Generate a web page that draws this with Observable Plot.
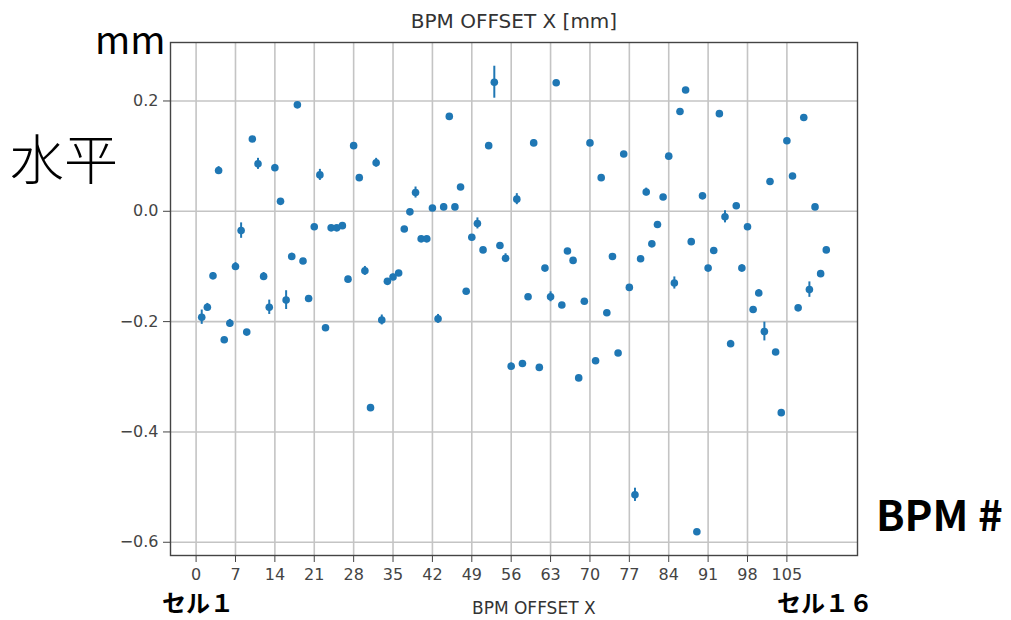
<!DOCTYPE html>
<html>
<head>
<meta charset="utf-8">
<script src="https://cdn.jsdelivr.net/npm/d3@7"></script>
<script src="https://cdn.jsdelivr.net/npm/@observablehq/plot@0.6"></script>
<style>
  html, body { margin: 0; padding: 0; background: #fff; }
  #wrap { position: relative; width: 1011px; height: 620px; overflow: hidden; background: #fff; }
  #chart { position: absolute; left: 0; top: 0; }
  .ann { position: absolute; white-space: nowrap; line-height: 1; color: #000; }
</style>
</head>
<body>
<div id="wrap">
  <div id="chart"></div>
  <div class="ann" style="left:0;width:1028px;top:9px;text-align:center;font:20px 'DejaVu Sans';color:#333;">BPM OFFSET X [mm]</div>
  <div class="ann" style="left:95px;top:10px;font:38px 'Noto Sans CJK JP';">mm</div>
  <div class="ann" style="left:10px;top:117px;font:300 54px 'Noto Sans CJK JP';">水平</div>
  <div class="ann" style="left:876px;top:482px;font:bold 42px 'Noto Sans CJK JP';">BPM #</div>
  <div class="ann" style="left:472px;top:598px;font:17px 'DejaVu Sans';color:#333;">BPM OFFSET X</div>
  <div class="ann" style="left:162px;top:584px;font:bold 24px 'Noto Sans CJK JP';">セル１</div>
  <div class="ann" style="left:777px;top:584px;font:bold 24px 'Noto Sans CJK JP';">セル１６</div>
</div>
<script>
const bpm = [1,2,3,4,5,6,7,8,9,10,11,12,13,14,15,16,17,18,19,20,21,22,23,24,25,26,27,28,29,30,
  31,32,33,34,35,36,37,38,39,40,41,42,43,44,45,46,47,48,49,50,51,52,53,54,55,56,57,58,59,60,
  61,62,63,64,65,66,67,68,69,70,71,72,73,74,75,76,77,78,79,80,81,82,83,84,85,86,87,88,89,90,
  91,92,93,94,95,96,97,98,99,100,101,102,103,104,105,106,107,108,109,110,111,112];
const offsetX = [-0.192,-0.174,-0.117,0.074,-0.233,-0.203,-0.100,-0.035,-0.219,0.131,
  0.086,-0.118,-0.174,0.079,0.018,-0.161,-0.082,0.193,-0.090,-0.158,
  -0.028,0.066,-0.211,-0.030,-0.030,-0.026,-0.123,0.119,0.061,-0.108,
  -0.356,0.088,-0.197,-0.127,-0.119,-0.112,-0.032,-0.001,0.034,-0.050,
  -0.050,0.006,-0.195,0.008,0.172,0.008,0.044,-0.145,-0.047,-0.022,
  -0.070,0.119,0.234,-0.062,-0.085,-0.281,0.022,-0.276,-0.155,0.124,
  -0.283,-0.103,-0.155,0.233,-0.170,-0.072,-0.089,-0.302,-0.163,0.124,
  -0.271,0.061,-0.184,-0.082,-0.257,0.104,-0.138,-0.514,-0.086,0.035,
  -0.059,-0.024,0.026,0.100,-0.130,0.181,0.220,-0.055,-0.581,0.028,
  -0.103,-0.071,0.177,-0.010,-0.240,0.010,-0.103,-0.028,-0.178,-0.148,
  -0.218,0.054,-0.255,-0.365,0.128,0.064,-0.175,0.170,-0.142,0.008,
  -0.113,-0.070];
const errX = [0.013,0.007,0.006,0.007,0.004,0.007,0.007,0.014,0.004,0.004,
  0.010,0.007,0.013,0.006,0.005,0.017,0.006,0.004,0.004,0.004,
  0.004,0.010,0.004,0.004,0.004,0.004,0.005,0.004,0.004,0.008,
  0.004,0.008,0.009,0.004,0.005,0.004,0.004,0.004,0.010,0.004,
  0.004,0.004,0.008,0.006,0.004,0.004,0.004,0.004,0.004,0.010,
  0.004,0.004,0.029,0.004,0.008,0.006,0.010,0.004,0.004,0.006,
  0.004,0.004,0.009,0.004,0.004,0.004,0.004,0.004,0.004,0.004,
  0.004,0.004,0.004,0.004,0.004,0.004,0.004,0.012,0.004,0.007,
  0.004,0.004,0.004,0.004,0.011,0.004,0.004,0.004,0.004,0.004,
  0.004,0.004,0.004,0.011,0.006,0.004,0.006,0.004,0.004,0.006,
  0.017,0.005,0.004,0.004,0.004,0.004,0.004,0.004,0.014,0.004,
  0.004,0.004];
const xTicks = [0,7,14,21,28,35,42,49,56,63,70,77,84,91,98,105];
const yTicks = [-0.6,-0.4,-0.2,0.0,0.2];

const data = bpm.map((b, i) => ({bpm: b, v: offsetX[i], e: errX[i]}));

const chart = Plot.plot({
  width: 1011,
  height: 620,
  marginLeft: 170,
  marginRight: 154,
  marginTop: 42,
  marginBottom: 65,
  style: {fontSize: "16px", fontFamily: "DejaVu Sans", color: "#444", background: "white", overflow: "visible"},
  x: {domain: [-4.55, 117.55], ticks: xTicks, tickFormat: d => String(d), tickSize: 7, tickPadding: 6, label: null},
  y: {domain: [-0.624, 0.306], ticks: yTicks, tickFormat: d3.format(".1f"), tickSize: 7, tickPadding: 5, label: null},
  marks: [
    Plot.ruleX(xTicks, {stroke: "#c4c4c4", strokeWidth: 1.6}),
    Plot.ruleY(yTicks, {stroke: "#c4c4c4", strokeWidth: 1.6}),
    Plot.frame({stroke: "#444", strokeWidth: 1.4}),
    Plot.ruleX(data, {x: "bpm", y1: d => d.v - d.e, y2: d => d.v + d.e, stroke: "#1f77b4", strokeWidth: 2}),
    Plot.dot(data, {x: "bpm", y: "v", r: 3.8, fill: "#1f77b4", stroke: "none"})
  ]
});
document.getElementById("chart").appendChild(chart);
</script>
</body>
</html>
